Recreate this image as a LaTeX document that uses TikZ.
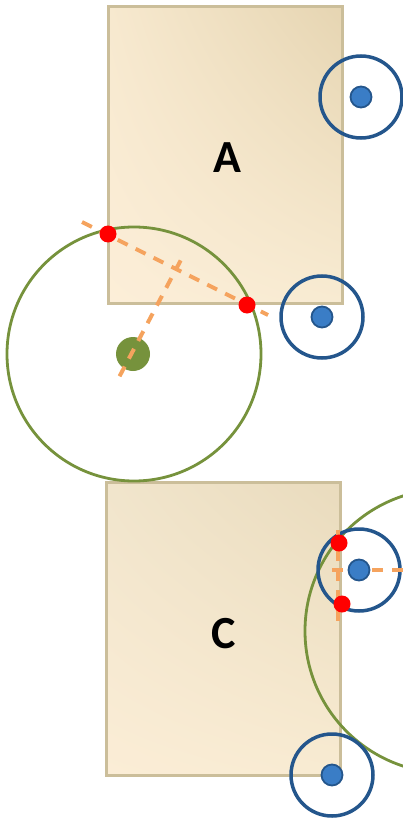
\documentclass[tikz,border=0pt]{standalone}
\usepackage{fontspec}
\setmainfont{Carlito}
\usetikzlibrary{shadings}
\definecolor{boxborder}{HTML}{CBBE9A}
\definecolor{ringblue}{HTML}{24568C}
\definecolor{dotblue}{HTML}{3A7DC6}
\definecolor{olive1}{HTML}{76923C}
\definecolor{dashorange}{HTML}{F5A35E}
\definecolor{aul}{RGB}{247,233,207}
\definecolor{aur}{RGB}{230,213,178}
\definecolor{all}{RGB}{252,238,216}
\definecolor{alr}{RGB}{248,235,210}
\definecolor{cul}{RGB}{241,229,204}
\definecolor{cur}{RGB}{233,219,189}
\definecolor{cll}{RGB}{251,237,214}
\definecolor{clr}{RGB}{248,235,210}
\begin{document}
\begin{tikzpicture}[x=1pt,y=-1pt,
  boxline/.style={draw=boxborder,line width=3pt},
  bluering/.style={circle,draw=ringblue,line width=3.5pt,minimum size=82pt,inner sep=0pt},
  bluedot/.style={circle,draw=ringblue,fill=dotblue,line width=1.8pt,minimum size=21pt,inner sep=0pt},
  greenring/.style={circle,draw=olive1,line width=2.8pt,inner sep=0pt},
  greendot/.style={circle,fill=olive1,minimum size=34pt,inner sep=0pt},
  reddot/.style={circle,fill=red,minimum size=17pt,inner sep=0pt},
  orangedash/.style={draw=dashorange,line width=4pt,dash pattern=on 11pt off 9pt},
  lbl/.style={font=\fontsize{46}{50}\selectfont\bfseries,text=black}]
\useasboundingbox (0,0) rectangle (403,818);
% boxes
\shade[upper left=aul,upper right=aur,lower left=all,lower right=alr]
  (108,7) rectangle (342,303);
\draw[boxline] (108,7) rectangle (342,303);
\shade[upper left=cul,upper right=cur,lower left=cll,lower right=clr]
  (106,482) rectangle (340,775);
\draw[boxline] (106,482) rectangle (340,775);
\node[lbl] (la) at (227,158) {A};
\node[lbl] (lc) at (224,634) {C};
% green circles
\node[greenring,minimum size=254pt] (g1) at (134,354) {};
\node[greendot] (gd) at (133,354) {};
\node[greenring,minimum size=284pt] (g2) at (447,631) {};
% top dashed construction
\coordinate (t1) at (82,222);
\coordinate (t2) at (268,315);
\coordinate (p1) at (183,256);
\coordinate (p2) at (116,383);
\draw[orangedash] (t1) -- (t2);
\draw[orangedash,dash phase=15pt] (p1) -- (p2);
% blue rings
\node[bluering] (b1) at (361,97) {};
\node[bluedot] (b1d) at (361,97) {};
\node[bluering] (b2) at (322,317) {};
\node[bluedot] (b2d) at (322,317) {};
\node[bluering] (b3) at (359,570) {};
\node[bluering] (b4) at (332,775) {};
\node[bluedot] (b4d) at (332,775) {};
% bottom dashed construction
\coordinate (h1) at (332,570);
\coordinate (h2) at (403,570);
\coordinate (v1) at (338,530);
\coordinate (v2) at (338,623);
\draw[orangedash] (h1) -- (h2);
\draw[orangedash] (v1) -- (v2);
\node[bluedot] (b3d) at (359,570) {};
% red points
\node[reddot] (r1) at (108,234) {};
\node[reddot] (r2) at (247,305) {};
\node[reddot] (r3) at (339,543) {};
\node[reddot] (r4) at (342,604) {};
\end{tikzpicture}
\end{document}
